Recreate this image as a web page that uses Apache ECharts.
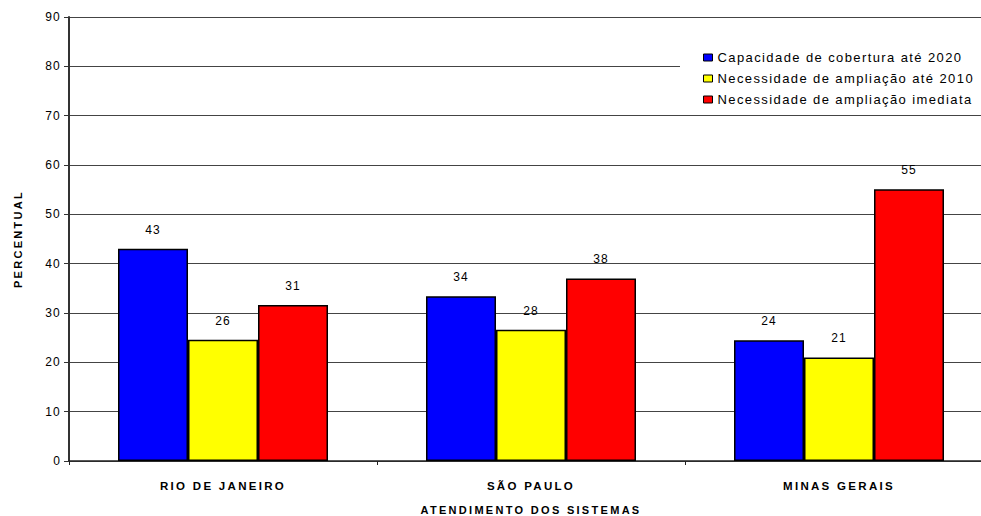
<!DOCTYPE html>
<html>
<head>
<meta charset="utf-8">
<script src="https://cdn.jsdelivr.net/npm/echarts@6/dist/echarts.min.js"></script>
<style>
  html, body { margin: 0; padding: 0; background: #fff; }
  #chart { width: 981px; height: 516px; }
  /* the original has wide letter spacing everywhere */
  #chart text { letter-spacing: 1.2px; }
  #chart text[style*="bold"] { letter-spacing: 2.3px; }
  #chart text[style*="13px"] { letter-spacing: 1.4px; }
</style>
</head>
<body>
<div id="chart"></div>
<script>
const categories = ['RIO DE JANEIRO', 'SÃO PAULO', 'MINAS GERAIS'];
const seriesNames = [
  'Capacidade de cobertura até 2020',
  'Necessidade de ampliação até 2010',
  'Necessidade de ampliação imediata'
];
// bar heights as drawn
const capacidade2020 = [43.0, 33.4, 24.5];
const ampliacao2010 = [24.6, 26.6, 21.0];
const ampliacaoImediata = [31.6, 37.0, 55.1];
// value labels as printed above bars
const labelsCapacidade = [43, 34, 24];
const labels2010 = [26, 28, 21];
const labelsImediata = [31, 38, 55];
const yMin = 0, yMax = 90, yStep = 10;

const font = 'Liberation Sans, Arial, sans-serif';
const colors = ['#0000ff', '#ffff00', '#ff0000'];

const chart = echarts.init(document.getElementById('chart'), null, { renderer: 'svg' });

function barSeries(i, values, labels) {
  return {
    name: seriesNames[i],
    type: 'bar',
    data: values,
    barWidth: 70,
    barGap: '0%',
    itemStyle: { color: colors[i], borderColor: '#000', borderWidth: 1.5 },
    label: {
      show: true,
      position: 'top',
      distance: 13,
      color: '#000',
      fontSize: 12,
      fontFamily: font,
      formatter: (p) => labels[p.dataIndex]
    },
    emphasis: { disabled: true }
  };
}

const option = {
  animation: false,
  backgroundColor: '#fff',
  // plot runs past the right edge in the original, so no fitting
  grid: { left: 69, right: -12, top: 17, bottom: 55, outerBoundsMode: 'none' },
  legend: {
    orient: 'vertical',
    left: 680,
    top: 45,
    padding: [6, 60, 6, 23],
    backgroundColor: '#fff',
    icon: 'rect',
    itemWidth: 9,
    itemHeight: 7,
    itemGap: 8,
    itemStyle: { borderColor: '#000', borderWidth: 1 },
    textStyle: { fontSize: 13, color: '#000', fontFamily: font },
    data: seriesNames
  },
  xAxis: {
    type: 'category',
    data: categories,
    name: 'ATENDIMENTO DOS SISTEMAS',
    nameLocation: 'middle',
    nameGap: 43,
    nameTextStyle: { fontSize: 11, fontWeight: 'bold', color: '#000', fontFamily: font },
    axisLine: { lineStyle: { color: '#222', width: 1.5 } },
    axisTick: { show: true, length: 4, lineStyle: { color: '#222' } },
    axisLabel: { margin: 19, fontSize: 11.5, fontWeight: 'bold', color: '#000', fontFamily: font }
  },
  yAxis: {
    type: 'value',
    min: yMin,
    max: yMax,
    interval: yStep,
    name: 'PERCENTUAL',
    nameLocation: 'middle',
    nameGap: 46,
    nameRotate: 90,
    nameTextStyle: { fontSize: 11, fontWeight: 'bold', color: '#000', fontFamily: font },
    axisLine: { show: true, lineStyle: { color: '#333', width: 2 } },
    axisTick: { show: true, length: 5, lineStyle: { color: '#333' } },
    axisLabel: { margin: 8, fontSize: 12, color: '#000', fontFamily: font },
    splitLine: { show: true, lineStyle: { color: '#444', width: 1 } }
  },
  series: [
    barSeries(0, capacidade2020, labelsCapacidade),
    barSeries(1, ampliacao2010, labels2010),
    barSeries(2, ampliacaoImediata, labelsImediata)
  ]
};

chart.setOption(option);
</script>
</body>
</html>
